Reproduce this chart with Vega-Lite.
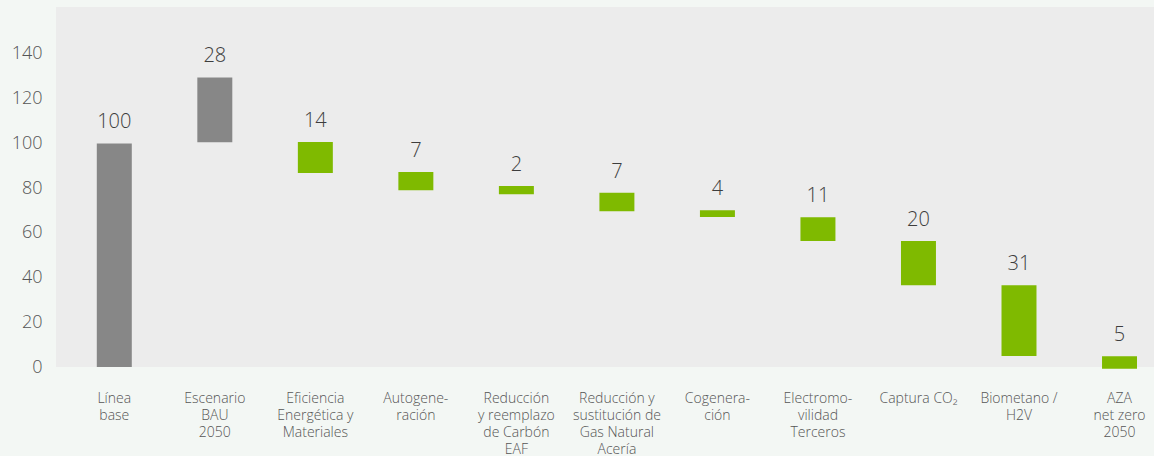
{
  "$schema": "https://vega.github.io/schema/vega-lite/v6.json",
  "autosize": "none",
  "width": 1098,
  "height": 360,
  "padding": {"left": 56, "top": 7, "right": 0, "bottom": 89},
  "background": "#f3f7f4",
  "config": {
    "view": {"fill": "#ececec", "stroke": null},
    "font": "Open Sans"
  },
  "data": {
    "values": [
      {"cat": ["Línea", "base"], "start": 0, "end": 100, "label": "100", "kind": "Base"},
      {"cat": ["Escenario", "BAU", "2050"], "start": 100.5, "end": 129.5, "label": "28", "kind": "Base"},
      {"cat": ["Eficiencia", "Energética y", "Materiales"], "start": 100.6, "end": 86.8, "label": "14", "kind": "Reducción"},
      {"cat": ["Autogene-", "ración"], "start": 87.2, "end": 79.1, "label": "7", "kind": "Reducción"},
      {"cat": ["Reducción", "y reemplazo", "de Carbón", "EAF"], "start": 80.9, "end": 77.3, "label": "2", "kind": "Reducción"},
      {"cat": ["Reducción y", "sustitución de", "Gas Natural", "Acería"], "start": 77.9, "end": 69.7, "label": "7", "kind": "Reducción"},
      {"cat": ["Cogenera-", "ción"], "start": 70.1, "end": 67.1, "label": "4", "kind": "Reducción"},
      {"cat": ["Electromo-", "vilidad", "Terceros"], "start": 67.0, "end": 56.4, "label": "11", "kind": "Reducción"},
      {"cat": ["Captura CO₂"], "start": 56.3, "end": 36.6, "label": "20", "kind": "Reducción"},
      {"cat": ["Biometano /", "H2V"], "start": 36.6, "end": 4.9, "label": "31", "kind": "Reducción"},
      {"cat": ["AZA", "net zero", "2050"], "start": 4.8, "end": -0.8, "label": "5", "kind": "Reducción"}
    ]
  },
  "transform": [
    {"calculate": "join(datum.cat, '\\n')", "as": "catText"},
    {"calculate": "max(datum.start, datum.end)", "as": "top"}
  ],
  "encoding": {
    "x": {
      "field": "catText",
      "type": "nominal",
      "sort": null,
      "scale": {"paddingInner": 0.652, "paddingOuter": 0.2875, "align": 0.706},
      "axis": {
        "title": null,
        "labelAngle": 0,
        "labelExpr": "split(datum.value, '\\n')",
        "labelFontSize": 14,
        "labelFontWeight": 300,
        "labelLineHeight": 17,
        "labelColor": "#555555",
        "labelPadding": 24,
        "labelBaseline": "top",
        "ticks": false,
        "domain": false
      }
    }
  },
  "layer": [
    {
      "mark": {"type": "bar", "clip": false},
      "encoding": {
        "y": {
          "field": "start",
          "type": "quantitative",
          "scale": {"domain": [0, 161], "nice": false, "zero": false},
          "axis": {
            "title": null,
            "values": [0, 20, 40, 60, 80, 100, 120, 140],
            "labelFontSize": 18,
            "labelFontWeight": 300,
            "labelColor": "#555555",
            "labelPadding": 14,
            "ticks": false,
            "domain": false,
            "grid": false
          }
        },
        "y2": {"field": "end"},
        "color": {
          "field": "kind",
          "type": "nominal",
          "scale": {"domain": ["Base", "Reducción"], "range": ["#878787", "#7fba00"]},
          "legend": null
        }
      }
    },
    {
      "mark": {"type": "text", "dy": -21, "baseline": "middle", "fontSize": 20, "fontWeight": 300, "color": "#3d3d3d"},
      "encoding": {
        "y": {"field": "top", "type": "quantitative"},
        "text": {"field": "label", "type": "nominal"}
      }
    }
  ]
}
